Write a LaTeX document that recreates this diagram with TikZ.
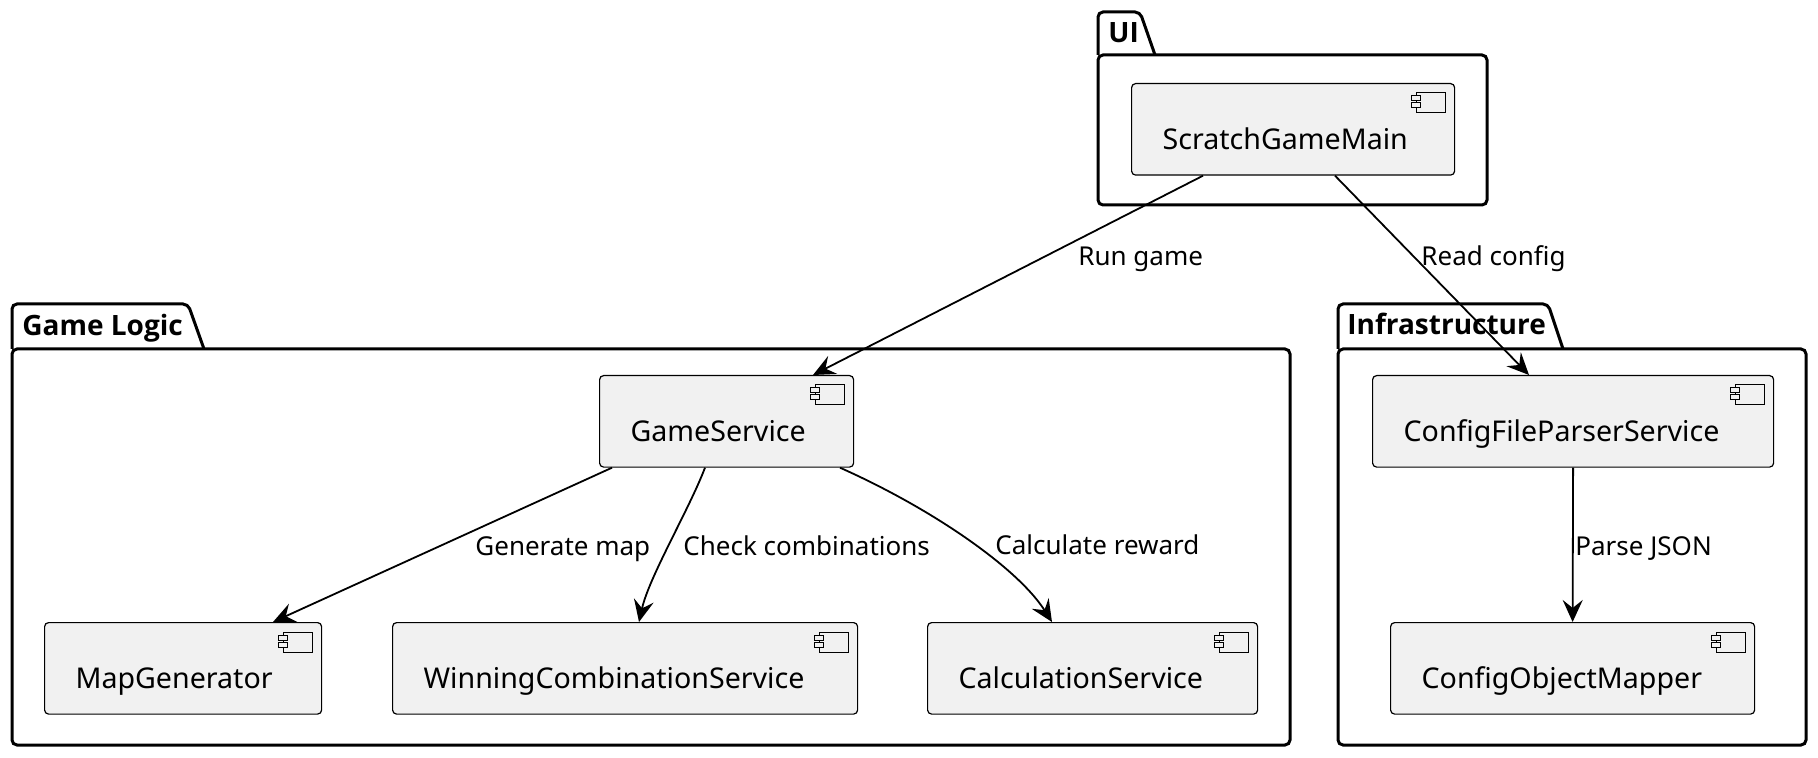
\documentclass[tikz,border=0pt]{standalone}
\usepackage{fontspec}
\setmainfont{Noto Sans}
\newfontfamily\titlefont{Open Sans}
\usepackage{tikz}
\usepackage{xcolor}
\usetikzlibrary{calc,arrows.meta}

\definecolor{compfill}{HTML}{F1F1F1}
\tikzset{
  comp/.style={draw, fill=compfill, line width=0.6pt, rounded corners=2pt,
    inner xsep=15.5pt, inner ysep=0pt, text height=33pt, text depth=12.75pt,
    align=left, anchor=north west, font=\fontsize{14.3}{17}\selectfont},
  pkgline/.style={line width=1.5pt, rounded corners=2.5pt},
  pkgtitle/.style={anchor=base west, inner sep=0pt, font=\titlefont\bfseries\fontsize{14}{17}\selectfont},
  conn/.style={line width=0.9pt, -{Stealth[length=11pt, width=10pt, inset=4pt]}},
  lbl/.style={anchor=base west, inner sep=0pt, font=\fontsize{13}{16}\selectfont},
  iconline/.style={line width=0.5pt}
}
% little component symbol in the upper right corner of a box
\newcommand{\compicon}[1]{%
  \draw[iconline] ([shift={(-39,10)}]#1.north east) rectangle ([shift={(-10,30)}]#1.north east);
  \draw[iconline, fill=compfill] ([shift={(-44,13)}]#1.north east) rectangle ([shift={(-35,18)}]#1.north east);
  \draw[iconline, fill=compfill] ([shift={(-44,20)}]#1.north east) rectangle ([shift={(-35,25)}]#1.north east);
}

\begin{document}
\begin{tikzpicture}[x=0.5pt, y=-0.5pt]
    \useasboundingbox (0,0) rectangle (1818,758);

    % packages
    \draw[pkgline] (1098,55) -- (1098,12) -- (1140,12) -- (1155,55);
    \draw[pkgline] (1098,55) rectangle (1487,205);
    \node[pkgtitle] (uiT) at (1108,43) {UI};

    \draw[pkgline] (12,349) -- (12,304) -- (188,304) -- (204,349);
    \draw[pkgline] (12,349) rectangle (1290,745);
    \node[pkgtitle] (logicT) at (22,336) {Game Logic};

    \draw[pkgline] (1338,349) -- (1338,304) -- (1548,304) -- (1563,349);
    \draw[pkgline] (1338,349) rectangle (1806,745);
    \node[pkgtitle] (infraT) at (1347,335) {Infrastructure};

    % components
    \node[comp, text width=130.5pt] (main) at (1131,83) {ScratchGameMain};
    \node[comp, text width=96pt] (gs) at (599,375) {GameService};
    \node[comp, text width=107.5pt] (map) at (44,622) {MapGenerator};
    \node[comp, text width=201.5pt] (win) at (392,622) {WinningCombinationService};
    \node[comp, text width=134pt] (calc) at (927,622) {CalculationService};
    \node[comp, text width=169.5pt] (cfg) at (1372,375) {ConfigFileParserService};
    \node[comp, text width=151pt] (mapper) at (1390,622) {ConfigObjectMapper};
    \compicon{main}
    \compicon{gs}
    \compicon{map}
    \compicon{win}
    \compicon{calc}
    \compicon{cfg}
    \compicon{mapper}

    % dependencies
    \draw[conn] ([xshift=36pt]main.south west) -- ([xshift=107pt]gs.north west);
    \draw[conn] ([xshift=102pt]main.south west) -- ([xshift=78.5pt]cfg.north west);
    \draw[conn] ([xshift=6.5pt]gs.south west) -- ([xshift=114.5pt]map.north west);
    \draw[conn] ([xshift=53pt]gs.south west) .. controls +(-16,42) and +(10,-45) .. ([xshift=123.5pt]win.north west);
    \draw[conn] ([xshift=120.5pt]gs.south west) .. controls +(90,40) and +(-35,-55) .. ([xshift=62.5pt]calc.north west);
    \draw[conn] (cfg.south) -- (mapper.north);

    \node[lbl] (runL) at (1078,266) {Run game};
    \node[lbl] (readL) at (1421,266) {Read config};
    \node[lbl] (genL) at (475,555) {Generate map};
    \node[lbl] (checkL) at (683,555) {Check combinations};
    \node[lbl] (rewardL) at (995,554) {Calculate reward};
    \node[lbl] (parseL) at (1575,555) {Parse JSON};
\end{tikzpicture}
\end{document}
